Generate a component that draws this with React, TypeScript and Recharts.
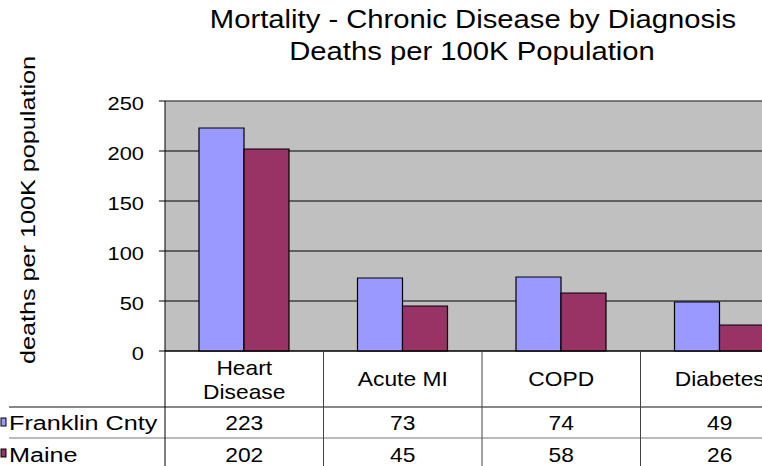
import React from "react";
import { BarChart, Bar, XAxis, YAxis, CartesianGrid, ReferenceLine } from "recharts";

const categories = ["Heart Disease", "Acute MI", "COPD", "Diabetes"];
const categoryLines = [["Heart", "Disease"], ["Acute MI"], ["COPD"], ["Diabetes"]];
const seriesNames = ["Franklin Cnty", "Maine"];
const franklin = [223, 73, 74, 49];
const maine = [202, 45, 58, 26];
const yTicks = [0, 50, 100, 150, 200, 250];
const titleLines = ["Mortality - Chronic Disease by Diagnosis", "Deaths per 100K Population"];
const yTitle = "deaths per 100K population";

const BLUE = "#9999FF";
const MAROON = "#993366";
const FONT = '"Liberation Sans", Arial, sans-serif';

const CHART_W = 800;
const CHART_H = 466;
const MARGIN = { top: 101, right: 1, bottom: 0, left: 0 };
const Y_W = 165;
const X_H = 115;
const BAND = (CHART_W - MARGIN.left - MARGIN.right - Y_W) / categories.length;

const data = categories.map((c, i) => ({ name: c, franklin: franklin[i], maine: maine[i] }));

// excel text renders wider than Arial, so stretch it a bit
const Stretch = ({ x, y, size = 20, sx = 1.14, anchor = "middle", children }: any) => (
  <text
    transform={`translate(${x},${y}) scale(${sx},1)`}
    textAnchor={anchor}
    fontSize={size}
    fontFamily={FONT}
    fill="#000"
  >
    {children}
  </text>
);

const YTick = ({ x, y, payload }: any) => (
  <Stretch x={x} y={y + 9} size={19} sx={1.15} anchor="end">
    {payload.value}
  </Stretch>
);

// x-axis tick draws the data table column under each category
const TableTick = (props: any) => {
  const { x, y, payload } = props;
  const index = props.index ?? categories.indexOf(payload.value);
  const left = x - BAND / 2;
  const lines = categoryLines[index];
  const labelY = lines.length > 1 ? [24, 48] : [35];
  return (
    <g>
      {index === 0 && (
        <g>
          <line x1={9} x2={CHART_W} y1={y + 56} y2={y + 56} stroke="#111" />
          <line x1={9} x2={CHART_W} y1={y + 87} y2={y + 87} stroke="#777" />
          <rect x={1} y={y + 67} width={5} height={8} fill={BLUE} stroke="#000" />
          <rect x={1} y={y + 98} width={5} height={8} fill={MAROON} stroke="#000" />
          <Stretch x={9} y={y + 79} size={21} anchor="start" sx={1.2}>{seriesNames[0]}</Stretch>
          <Stretch x={9} y={y + 111} size={21} anchor="start" sx={1.2}>{seriesNames[1]}</Stretch>
        </g>
      )}
      <line x1={left} x2={left} y1={y} y2={CHART_H} stroke={index === 0 ? "#000" : "#444"} />
      {lines.map((t: string, k: number) => (
        <Stretch key={k} x={x} y={y + labelY[k]}>{t}</Stretch>
      ))}
      <Stretch x={x} y={y + 79}>{franklin[index]}</Stretch>
      <Stretch x={x} y={y + 111}>{maine[index]}</Stretch>
    </g>
  );
};

export default function App() {
  return (
    <div
      style={{
        position: "absolute",
        left: 0,
        top: 0,
        width: 762,
        height: 466,
        overflow: "hidden",
        background: "#fff",
      }}
    >
      <BarChart width={CHART_W} height={CHART_H} data={data} margin={MARGIN} barGap={0}>
        <CartesianGrid vertical={false} stroke="#000" fill="#C0C0C0" />
        <ReferenceLine y={250} stroke="#808080" />
        <XAxis
          dataKey="name"
          height={X_H}
          interval={0}
          tickLine={false}
          tickSize={0}
          tickMargin={0}
          axisLine={{ stroke: "#000" }}
          tick={<TableTick />}
        />
        <YAxis
          width={Y_W}
          domain={[0, 250]}
          ticks={yTicks}
          tickSize={6}
          tickMargin={15}
          axisLine={{ stroke: "#000" }}
          tickLine={{ stroke: "#000" }}
          tick={<YTick />}
        />
        <Bar dataKey="franklin" name={seriesNames[0]} fill={BLUE} stroke="#000" strokeWidth={1.2} barSize={45} isAnimationActive={false} />
        <Bar dataKey="maine" name={seriesNames[1]} fill={MAROON} stroke="#000" strokeWidth={1.2} barSize={45} isAnimationActive={false} />
      </BarChart>
      <svg
        width={762}
        height={466}
        style={{ position: "absolute", left: 0, top: 0, pointerEvents: "none" }}
      >
        <Stretch x={473} y={28} size={25} sx={1.17}>{titleLines[0]}</Stretch>
        <Stretch x={472} y={60} size={25} sx={1.17}>{titleLines[1]}</Stretch>
        <text
          transform="translate(35,210) rotate(-90) scale(1.2,1)"
          textAnchor="middle"
          fontSize={21}
          fontFamily={FONT}
          fill="#000"
        >
          {yTitle}
        </text>
      </svg>
    </div>
  );
}
